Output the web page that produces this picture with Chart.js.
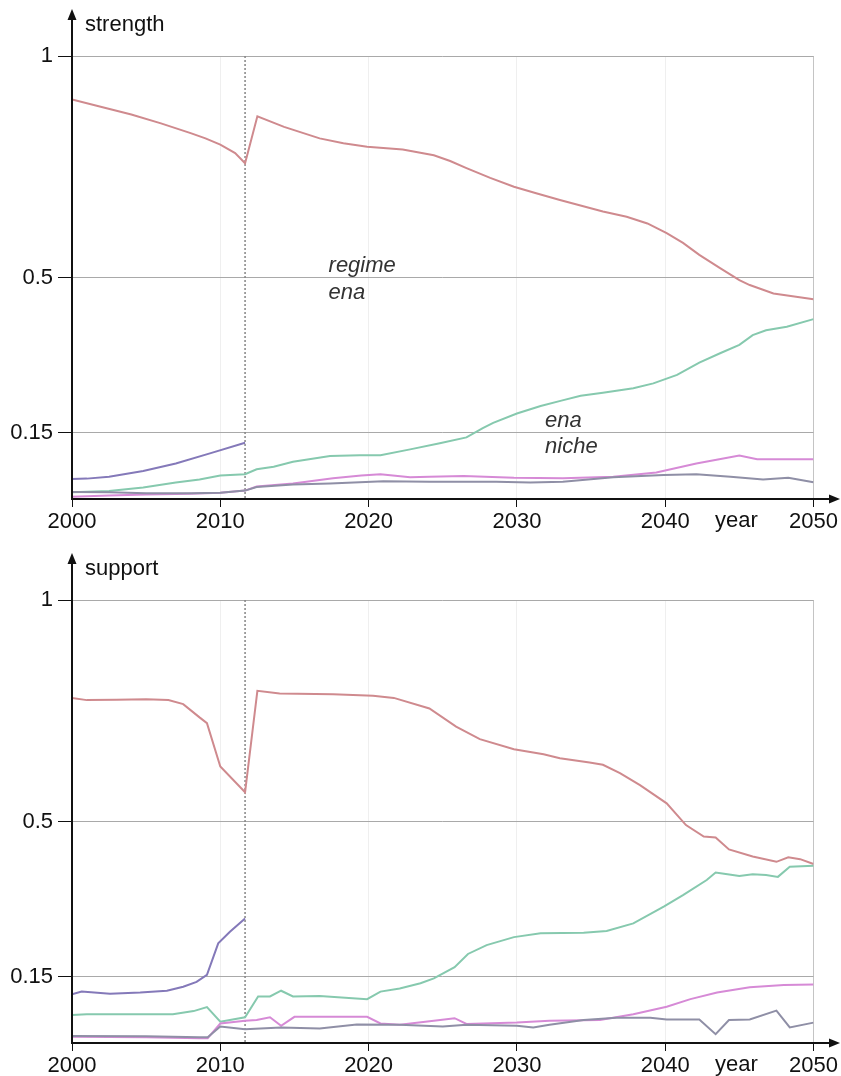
<!DOCTYPE html>
<html>
<head>
<meta charset="utf-8">
<script src="https://cdn.jsdelivr.net/npm/chart.js@4/dist/chart.umd.min.js"></script>
<style>
  html, body { margin: 0; padding: 0; background: #ffffff; }
  canvas { display: block; }
</style>
</head>
<body>
<canvas id="strength" width="841" height="540"></canvas>
<canvas id="support" width="841" height="536"></canvas>
<script>
// ---- x axis ----
const yearTicks = [2000, 2010, 2020, 2030, 2040, 2050];
const switchYear = 2011.67;
const valueTicks = [0.15, 0.5, 1];

// ---- strength panel ----
const regimeStrengthX = [2000, 2002, 2004, 2006, 2008, 2009, 2010, 2011, 2011.67, 2012.5, 2014.3, 2016.7, 2018.3, 2019.9, 2022.3, 2024.4, 2025.5, 2026.6, 2028.2, 2029.8, 2031.3, 2032.9, 2035.8, 2037.4, 2038.8, 2040.1, 2041.2, 2042.3, 2043.7, 2045.0, 2045.7, 2047.3, 2050];
const regimeStrength  = [0.902, 0.885, 0.868, 0.848, 0.826, 0.814, 0.800, 0.781, 0.758, 0.864, 0.840, 0.814, 0.803, 0.795, 0.789, 0.776, 0.763, 0.747, 0.725, 0.705, 0.690, 0.675, 0.649, 0.637, 0.622, 0.600, 0.578, 0.551, 0.521, 0.494, 0.483, 0.464, 0.451];

const incumbentStrengthX = [2000, 2001, 2002.5, 2004.8, 2007, 2009.3, 2011.67];
const incumbentStrength  = [0.045, 0.046, 0.050, 0.063, 0.080, 0.103, 0.127];

const nicheStrengthX = [2000, 2002.5, 2004.8, 2007, 2008.6, 2010, 2011.67, 2012.45, 2013.6, 2014.9, 2017.4, 2019.4, 2020.8, 2022.8, 2024.8, 2026.6, 2027.7, 2028.4, 2030.0, 2031.6, 2033.0, 2034.3, 2035.8, 2037.85, 2039.2, 2040.8, 2042.3, 2043.7, 2045.0, 2045.9, 2046.8, 2048.2, 2050];
const nicheStrength  = [0.015, 0.018, 0.026, 0.037, 0.044, 0.053, 0.056, 0.067, 0.073, 0.084, 0.097, 0.099, 0.099, 0.112, 0.126, 0.139, 0.160, 0.172, 0.193, 0.210, 0.222, 0.233, 0.240, 0.250, 0.261, 0.280, 0.308, 0.329, 0.348, 0.370, 0.381, 0.389, 0.406];

const altAStrengthX = [2000, 2002.5, 2005, 2008, 2010, 2011.67, 2012.45, 2014.9, 2017.6, 2019.5, 2020.8, 2022.8, 2024.1, 2026.4, 2029.8, 2033.1, 2036.5, 2039.4, 2042.1, 2045.0, 2046.2, 2050];
const altAStrength  = [0.005, 0.008, 0.010, 0.012, 0.014, 0.019, 0.028, 0.035, 0.047, 0.053, 0.056, 0.049, 0.050, 0.052, 0.048, 0.047, 0.050, 0.060, 0.080, 0.098, 0.090, 0.090];

const altBStrengthX = [2000, 2002.5, 2005, 2008, 2010, 2011.67, 2012.45, 2014.9, 2017.4, 2019.4, 2021.0, 2024.1, 2028.6, 2030.9, 2033.1, 2036.5, 2039.9, 2042.1, 2044.4, 2046.6, 2048.3, 2050];
const altBStrength  = [0.016, 0.015, 0.013, 0.013, 0.014, 0.019, 0.027, 0.033, 0.035, 0.038, 0.040, 0.039, 0.039, 0.037, 0.039, 0.049, 0.054, 0.056, 0.050, 0.044, 0.048, 0.038];

// ---- support panel ----
const regimeSupportX = [2000, 2001, 2003, 2005, 2006.5, 2007.5, 2008.6, 2009.1, 2010.0, 2011.67, 2012.5, 2014.0, 2017.6, 2020.3, 2021.7, 2024.1, 2025.9, 2027.5, 2029.8, 2031.8, 2032.9, 2034.9, 2035.8, 2036.95, 2038.3, 2040.1, 2041.4, 2042.6, 2043.4, 2044.3, 2045.9, 2047.5, 2048.3, 2049.1, 2050];
const regimeSupport  = [0.779, 0.774, 0.775, 0.776, 0.774, 0.765, 0.735, 0.722, 0.624, 0.566, 0.795, 0.789, 0.787, 0.784, 0.779, 0.755, 0.714, 0.686, 0.663, 0.652, 0.643, 0.633, 0.628, 0.609, 0.582, 0.541, 0.492, 0.466, 0.464, 0.437, 0.421, 0.409, 0.419, 0.415, 0.404];

const incumbentSupportX = [2000, 2000.65, 2002.56, 2004.6, 2006.4, 2007.5, 2008.4, 2009.1, 2009.86, 2010.65, 2011.67];
const incumbentSupport  = [0.110, 0.116, 0.111, 0.114, 0.118, 0.127, 0.138, 0.154, 0.225, 0.251, 0.281];

const nicheSupportX = [2000, 2001, 2006.8, 2008.2, 2009.1, 2010.0, 2011.67, 2012.55, 2013.35, 2014.1, 2014.9, 2016.7, 2019.9, 2020.8, 2022.1, 2023.5, 2024.4, 2025.8, 2026.7, 2027.96, 2029.8, 2031.6, 2034.5, 2036.05, 2037.85, 2039.9, 2041.2, 2042.8, 2043.4, 2044.2, 2045.0, 2045.9, 2046.8, 2047.6, 2048.4, 2050];
const nicheSupport  = [0.063, 0.065, 0.065, 0.072, 0.081, 0.048, 0.058, 0.105, 0.105, 0.118, 0.105, 0.106, 0.099, 0.116, 0.123, 0.135, 0.146, 0.171, 0.201, 0.221, 0.239, 0.248, 0.249, 0.253, 0.270, 0.308, 0.334, 0.368, 0.385, 0.381, 0.377, 0.381, 0.379, 0.375, 0.398, 0.400];

const altASupportX = [2000, 2005, 2008.6, 2009.15, 2010.0, 2011.67, 2012.45, 2013.35, 2014.1, 2015.0, 2019.9, 2020.8, 2022.1, 2024.4, 2025.8, 2026.6, 2030.0, 2032.2, 2035.6, 2037.85, 2040.1, 2041.7, 2043.5, 2045.7, 2048.0, 2050];
const altASupport  = [0.014, 0.013, 0.011, 0.011, 0.044, 0.050, 0.052, 0.058, 0.039, 0.059, 0.059, 0.044, 0.041, 0.050, 0.056, 0.043, 0.046, 0.050, 0.052, 0.065, 0.082, 0.099, 0.114, 0.126, 0.131, 0.132];

const altBSupportX = [2000, 2005, 2008.6, 2009.15, 2010.0, 2011.67, 2014.1, 2016.7, 2019.2, 2022.1, 2025.0, 2026.6, 2030.0, 2031.1, 2032.2, 2034.5, 2036.7, 2039.0, 2040.1, 2042.3, 2043.4, 2044.3, 2045.7, 2047.5, 2048.4, 2050];
const altBSupport  = [0.016, 0.015, 0.013, 0.013, 0.037, 0.031, 0.035, 0.033, 0.042, 0.041, 0.037, 0.041, 0.039, 0.035, 0.041, 0.052, 0.057, 0.057, 0.053, 0.053, 0.020, 0.052, 0.053, 0.073, 0.035, 0.046];

// ---- series colours ----
const RED = '#cf8a8e';
const GREEN = '#86c9ae';
const BLUE = '#8479b9';
const MAGENTA = '#d68ad6';
const GRAY = '#8f8fa6';

const FONT = '"Liberation Sans", Arial, Helvetica, sans-serif';
Chart.defaults.font.family = FONT;
Chart.defaults.font.size = 22;
Chart.defaults.color = '#111';

function pts(xs, ys) { return xs.map((x, i) => ({ x: x, y: ys[i] })); }

function series(xs, ys, color) {
  return {
    data: pts(xs, ys),
    borderColor: color,
    borderWidth: 2,
    pointRadius: 0,
    fill: false,
    tension: 0
  };
}

// axis arrows, titles, the switch-year marker and inline labels
const panelDecor = {
  id: 'panelDecor',
  beforeDatasetsDraw(chart, args, opts) {
    const { ctx, chartArea: a, scales: { x } } = chart;
    const mx = x.getPixelForValue(opts.marker);
    ctx.save();
    ctx.strokeStyle = '#858585';
    ctx.lineWidth = 1.5;
    ctx.setLineDash([2, 2]);
    ctx.beginPath();
    ctx.moveTo(mx, a.top);
    ctx.lineTo(mx, a.bottom);
    ctx.stroke();
    ctx.restore();
  },
  afterDraw(chart, args, opts) {
    const { ctx, chartArea: a, scales: { x, y } } = chart;
    const W = chart.width;
    ctx.save();
    ctx.strokeStyle = '#111';
    ctx.fillStyle = '#111';
    ctx.lineWidth = 2;
    // vertical axis with arrow
    const tipY = a.top - 47;
    ctx.beginPath();
    ctx.moveTo(a.left, a.bottom);
    ctx.lineTo(a.left, tipY + 6);
    ctx.stroke();
    ctx.beginPath();
    ctx.moveTo(a.left, tipY);
    ctx.lineTo(a.left - 4.5, tipY + 11);
    ctx.lineTo(a.left + 4.5, tipY + 11);
    ctx.closePath();
    ctx.fill();
    // horizontal axis with arrow
    const tipX = W - 1;
    ctx.beginPath();
    ctx.moveTo(a.left - 1, a.bottom);
    ctx.lineTo(tipX - 6, a.bottom);
    ctx.stroke();
    ctx.beginPath();
    ctx.moveTo(tipX, a.bottom);
    ctx.lineTo(tipX - 11, a.bottom - 4.5);
    ctx.lineTo(tipX - 11, a.bottom + 4.5);
    ctx.closePath();
    ctx.fill();
    // axis titles
    ctx.font = '22px ' + FONT;
    ctx.textAlign = 'left';
    ctx.textBaseline = 'alphabetic';
    ctx.fillText(opts.title, a.left + 13, a.top - 25);
    ctx.fillText('year', 715, a.bottom + 28);
    // inline labels
    ctx.fillStyle = '#333';
    ctx.font = 'italic 22px ' + FONT;
    (opts.notes || []).forEach(n => {
      ctx.fillText(n.text, x.getPixelForValue(n.x), y.getPixelForValue(n.y));
    });
    ctx.restore();
  }
};

function makePanel(id, datasets, title, notes, topPad, axisH) {
  return new Chart(document.getElementById(id), {
    type: 'line',
    data: { datasets: datasets },
    plugins: [panelDecor],
    options: {
      responsive: false,
      animation: false,
      devicePixelRatio: 1,
      layout: { padding: { top: topPad, right: 27.5, left: 0, bottom: 0 } },
      plugins: {
        legend: { display: false },
        tooltip: { enabled: false },
        panelDecor: { marker: switchYear, title: title, notes: notes }
      },
      scales: {
        x: {
          type: 'linear',
          min: 2000,
          max: 2050,
          afterBuildTicks: s => { s.ticks = yearTicks.map(v => ({ value: v })); },
          afterFit: s => { s.height = axisH; },
          border: { display: false },
          grid: {
            color: c => (c.tick && c.tick.value === 2050) ? '#c4c4c4' : '#efefef',
            lineWidth: 1,
            tickColor: '#111',
            tickLength: 8
          },
          ticks: {
            autoSkip: false,
            maxRotation: 0,
            padding: 2,
            color: '#111',
            callback: v => String(v)
          }
        },
        y: {
          type: 'linear',
          min: 0,
          max: 1,
          afterBuildTicks: s => { s.ticks = valueTicks.map(v => ({ value: v })); },
          afterFit: s => { s.width = 72; },
          border: { display: false },
          grid: {
            color: '#a9a9a9',
            lineWidth: 1,
            tickColor: '#111',
            tickLength: 14
          },
          ticks: {
            padding: 5,
            color: '#111',
            callback: v => String(v)
          }
        }
      }
    }
  });
}

makePanel('strength', [
  series(incumbentStrengthX, incumbentStrength, BLUE),
  series(altBStrengthX, altBStrength, GRAY),
  series(altAStrengthX, altAStrength, MAGENTA),
  series(nicheStrengthX, nicheStrength, GREEN),
  series(regimeStrengthX, regimeStrength, RED)
], 'strength', [
  { text: 'regime', x: 2017.3, y: 0.512 },
  { text: 'ena', x: 2017.3, y: 0.451 },
  { text: 'ena', x: 2031.9, y: 0.162 },
  { text: 'niche', x: 2031.9, y: 0.103 }
], 56, 41);

makePanel('support', [
  series(incumbentSupportX, incumbentSupport, BLUE),
  series(altBSupportX, altBSupport, GRAY),
  series(altASupportX, altASupport, MAGENTA),
  series(nicheSupportX, nicheSupport, GREEN),
  series(regimeSupportX, regimeSupport, RED)
], 'support', [], 60, 33);
</script>
</body>
</html>
